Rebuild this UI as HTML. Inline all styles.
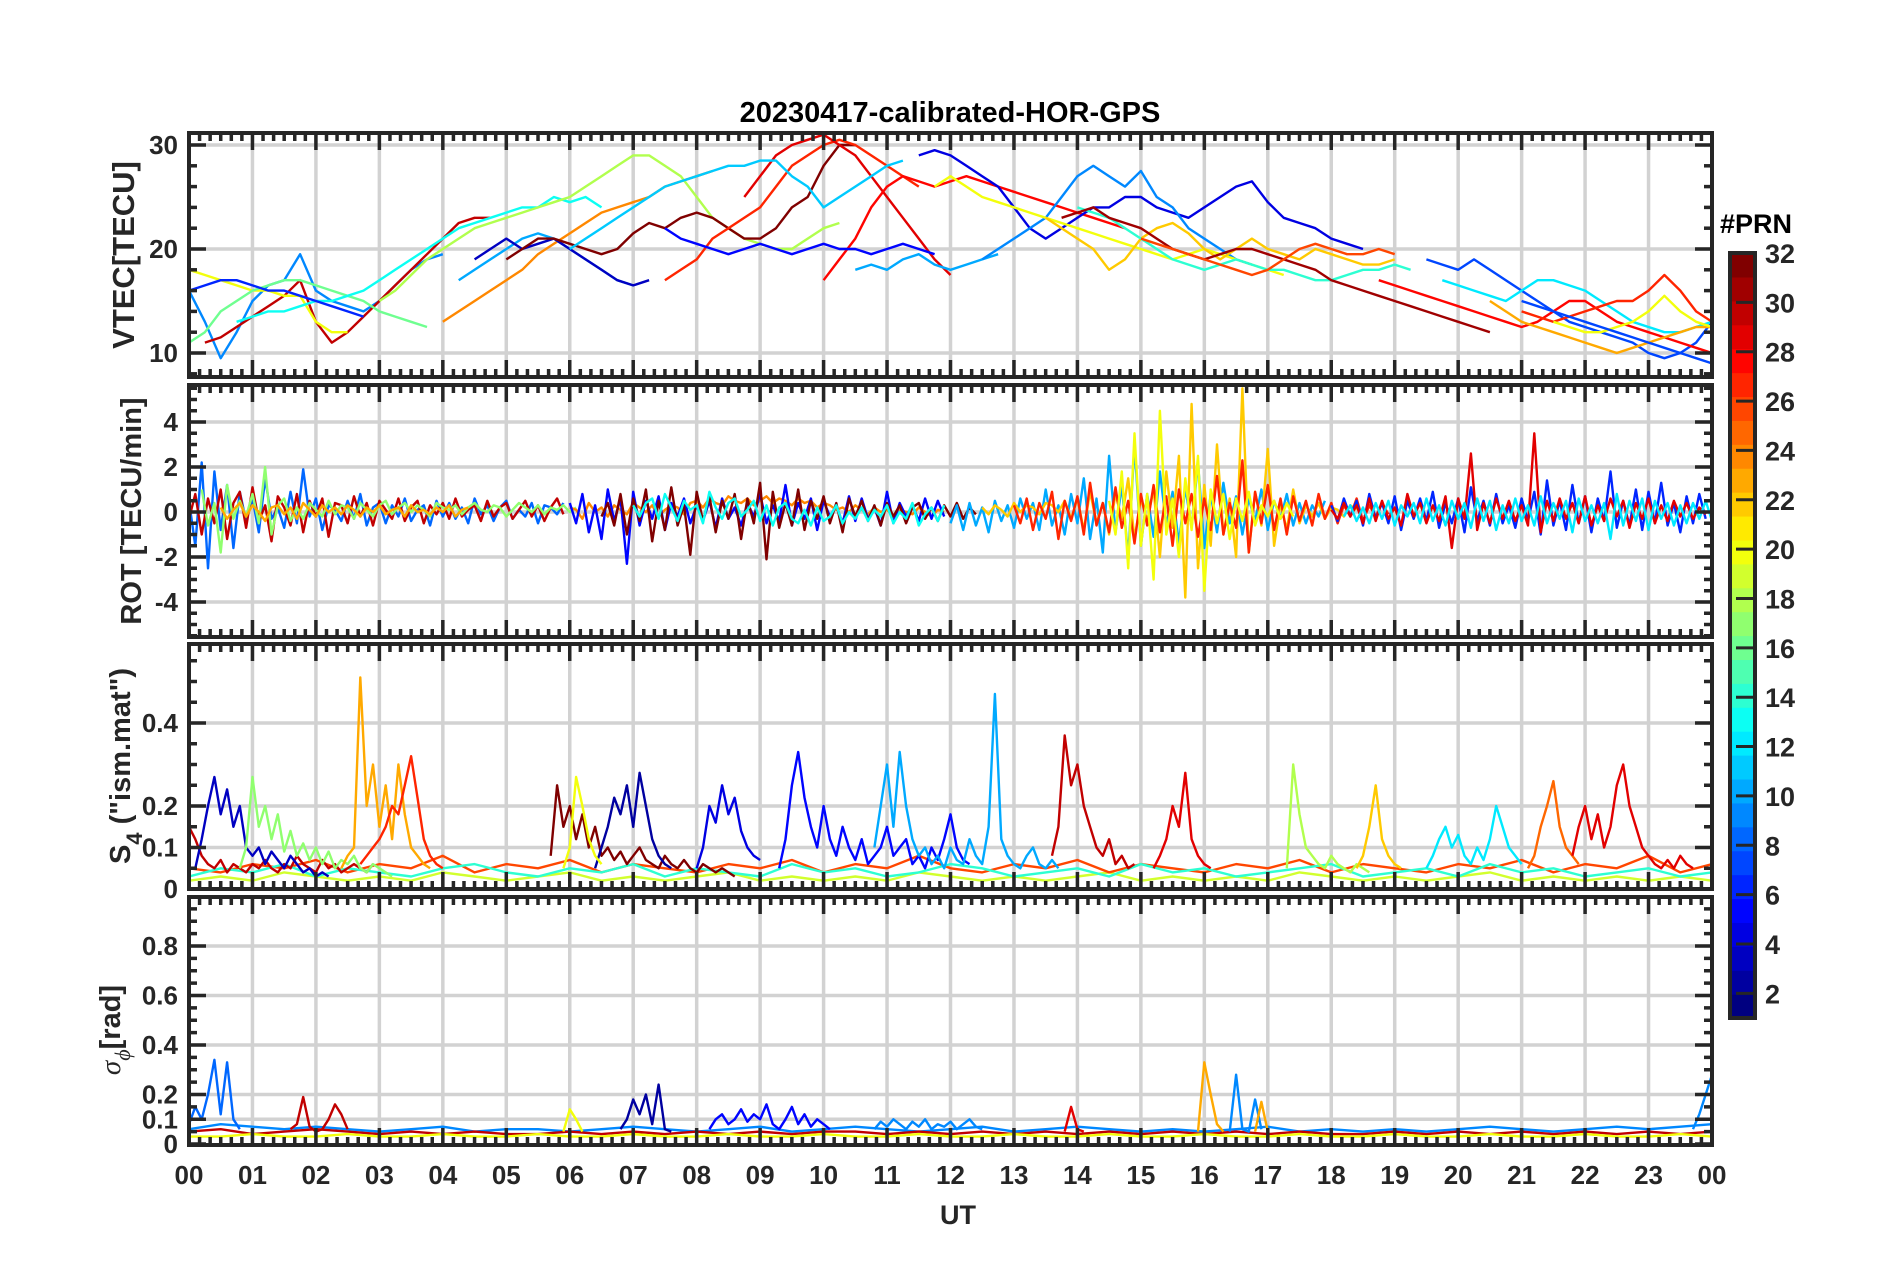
<!DOCTYPE html>
<html><head><meta charset="utf-8"><style>
html,body{margin:0;padding:0;background:#fff;}
svg{display:block;}
text{font-family:"Liberation Sans",sans-serif;font-weight:bold;fill:#262626;}
</style></head><body>
<svg id="fig" width="1902" height="1272" viewBox="0 0 1902 1272" xmlns="http://www.w3.org/2000/svg">
<rect x="0" y="0" width="1902" height="1272" fill="#fff"/>
<text x="950" y="122" text-anchor="middle" font-size="29" style="fill:#000">20230417-calibrated-HOR-GPS</text>
<text x="958" y="1224" text-anchor="middle" font-size="27">UT</text>
<text transform="translate(134,255) rotate(-90)" text-anchor="middle" font-size="31">VTEC[TECU]</text>
<text transform="translate(141,511) rotate(-90)" text-anchor="middle" font-size="29">ROT [TECU/min]</text>
<text transform="translate(130,766) rotate(-90)" text-anchor="middle" font-size="29">S<tspan font-size="22" dy="12">4</tspan><tspan dy="-12"> ("ism.mat")</tspan></text>
<text transform="translate(120,1030) rotate(-90)" text-anchor="middle" font-size="29"><tspan font-family="Liberation Serif" font-style="italic" font-weight="normal">σ</tspan><tspan font-size="22" dy="10" font-family="Liberation Serif" font-style="italic" font-weight="normal">ϕ</tspan><tspan dy="-10">[rad]</tspan></text>
<g id="content"></g>
</svg>
<script>
// ---------- VTEC data ----------
const vtecPrn = [9,30,20,16,13,24,18,10,3,32,27,29,28,11,5,10,4,9,20,22,14,31,26,7,12,28,23,27,20,6,7];
const vtecStart = [0,0.25,0,0,0.75,4.0,3.0,4.25,4.5,5.0,7.5,8.75,10,6.0,7.5,10.5,11.5,12.5,11.75,13.5,14,13.75,15,19.5,19.75,18.75,20.5,21,21.5,0,21];
const vtecStep = 0.25;
const vtec0 = [16,13,9.5,12,15,16.5,17,19.5,16,15,14.5,14,15,16.5,18,19,19.5];
const vtec1 = [11,11.5,12.5,13.5,14.5,15.5,17,13,11,12,13.5,15,16.5,18,19.5,21,22.5,23,23];
const vtec2 = [18,17.5,17,16.5,16,16,15.5,15.5,13,12,12];
const vtec3 = [11,12,14,15,16,16.5,17,17,16.5,16,15.5,15,14,13.5,13,12.5];
const vtec4 = [13,13.5,14,14,14.5,15,15,15.5,16,17,18,19,20,21,22,22.5,23,23.5,24,24,25,24.5,25,24];
const vtec5 = [13,14,15,16,17,18,19.5,20.5,21.5,22.5,23.5,24,24.5,25,26,26.5,27,27.5];
const vtec6 = [15,16,17.5,19,20,21,22,22.5,23,23.5,24,24.5,25,26,27,28,29,29,28,27,25,23,22,21,20.5,20,20,21,22,22.5];
const vtec7 = [17,18,19,20,21,21.5,21,20,19,18,17,16.5];
const vtec8 = [19,20,21,20,20.5,21,20,19,18,17,16.5,17];
const vtec9 = [19,20,21,21,20.5,20,19.5,20,21.5,22.5,22,23,23.5,23,22,21,21,22,24,25,28,30,30];
const vtec10 = [17,18,19,21,22,23,24,26,28,29,30,30.5,30,29,28,27,26];
const vtec11 = [25,27,29,30,30.5,31,30,29,27,25,23,21,19,17.5];
const vtec12 = [17,19,21,24,26,27,26.5,26,26.5,27,26.5,26,25.5,25,24.5,24,23.5,23,22.5,22];
const vtec13 = [20,21,22,23,24,25,26,26.5,27,27.5,28,28,28.5,28.5,27,26,24,25,26,27,28,28.5];
const vtec14 = [22,21,20.5,20,19.5,20,20.5,20,19.5,20,20.5,20,20,19.5,20,20.5,20,19.5];
const vtec15 = [18,18.5,18,19,19.5,18.5,18,18.5,19,19.5];
const vtec16 = [29,29.5,29,28,27,26,24,22,21,22,23,24,24,25,25,24,23.5,23,24,25,26,26.5,24.5,23,22.5,22,21,20.5,20];
const vtec17 = [19,20,21,22,23,25,27,28,27,26,27.5,25,24,22,21,20,19,18.5];
const vtec18 = [26,27,26,25,24.5,24,23.5,23,22.5,22,21.5,21,20.5,20,19.5,19,19.5,20,19.5,19,18.5,18,17.5];
const vtec19 = [23,22,21,20,18,19,21,22,22.5,21.5,20,19,20,21,20,19.5,19,20,19.5,19,18.5,18.5,19];
const vtec20 = [24,23.5,23,22,21,20,19,18.5,18,18.5,19,18.5,18,18,17.5,17,17,17.5,18,18,18.5,18];
const vtec21 = [23,23.5,24,23,22.5,22,21,20,19.5,19,19.5,20,20,19.5,19,18.5,18,17,16.5,16,15.5,15,14.5,14,13.5,13,12.5,12];
const vtec22 = [21,20.5,20,19.5,19,18.5,18,17.5,18,19,20,20.5,20,19.5,19.5,20,19.5];
const vtec23 = [19,18.5,18,19,18,17,16,15,14,13,12.5,12,11.5,11,10,9.5,10,11,13];
const vtec24 = [17,16.5,16,15.5,15,16,17,17,16.5,16,15,14,13,12.5,12,12,12.5,13];
const vtec25 = [17,16.5,16,15.5,15,14.5,14,13.5,13,12.5,13,14,15,15,14,13,12.5,12,11.5,11,10.5,10,10.5];
const vtec26 = [15,14,13,12.5,12,11.5,11,10.5,10,10.5,11,11.5,12,12.5,12.5];
const vtec27 = [14,13.5,13,13.5,14,14.5,15,15,16,17.5,16,14,13,13];
const vtec28 = [13,12.5,12,12,12.5,13,14,15.5,14,13,12.5,12,12];
const vtec29 = [16,16.5,17,17,16.5,16,16,15.5,15,14.5,14,13.5];
const vtec30 = [15,14.5,14,13.5,13,12.5,12,11.5,11,10.5,10,9.5,9,8.5,8];
const vtecVals = [vtec0,vtec1,vtec2,vtec3,vtec4,vtec5,vtec6,vtec7,vtec8,vtec9,vtec10,vtec11,vtec12,vtec13,vtec14,vtec15,vtec16,vtec17,vtec18,vtec19,vtec20,vtec21,vtec22,vtec23,vtec24,vtec25,vtec26,vtec27,vtec28,vtec29,vtec30];

// ---------- ROT data ----------
const rotPrn = [8,30,17,24,5,32,10,22,27,6,29,12,20,23,13];
const rotStart = [0,0,0.2,6,6,6.5,12,12.5,13,18,18,18.2,14.5,0.5,7];
const rotStep = 0.1;
const rot0 = [0.5,-1.5,2.2,-2.5,1.8,-0.8,1.2,-1.6,0.9,-0.4,0.6,-0.9,1.5,-0.3,0.2,-0.7,0.9,-0.5,1.9,-0.2,0.6,-0.8,0.3,0.1,-0.4,0.5,-0.3,0.8,-0.6,0.2,0.4,-0.5,0.3,-0.2,0.6,-0.4,0.1,0.3,-0.6,0.5,-0.2,0.4,-0.3,0.2,-0.5,0.6,-0.1,0.3,-0.4,0.2,0.5,-0.3,0.1,-0.2,0.4,-0.5,0.3,0.2,-0.1,0.4];
const rot1 = [-0.3,0.8,-1.0,0.6,-0.5,1.0,-1.2,0.4,0.9,-0.7,1.1,-0.4,0.3,-1.3,0.7,0.2,-0.6,0.8,-0.9,0.5,-0.2,0.6,-1.1,0.4,0.3,-0.5,0.7,-0.2,0.4,-0.6,0.5,0.1,-0.3,0.6,-0.4,0.2,0.5,-0.5,0.3,-0.1,0.4,-0.3,0.6,-0.2,0.1,0.3,-0.4,0.5,-0.2,0.2,0.4,-0.3,0.1,0.5,-0.2,0.3,-0.4,0.2,0.6,-0.1];
const rot2 = [1.0,-0.6,0.4,-1.8,1.2,-0.3,0.5,-0.2,0.8,-0.5,2.0,-1.0,0.3,0.6,-0.4,0.2,-0.3,0.4,0.1,-0.2,0.5,-0.1,0.3,0.2,-0.3,0.4,0.1,-0.2,0.3,0.5,-0.1,0.2,0.4,0.0,0.3,0.1,-0.2,0.4,0.2,0.1,0.3,-0.1,0.2,0.4,0.1,0.0,0.3,0.2,-0.2,0.1,0.4,0.2,0.0,0.3,-0.1,0.2,0.1,0.3,0.0,0.2];
const rot3 = [0.2,0.1,-0.3,0.4,0.0,0.2,-0.2,0.3,0.1,-0.1,0.4,0.2,0.0,0.3,-0.2,0.1,0.3,0.2,-0.1,0.4,0.5,0.2,0.6,0.4,0.3,0.7,0.5,0.4,0.6,0.3,0.5,0.7,0.4,0.6,0.5,0.3,0.6,0.4,0.5,0.2,0.4,0.3,0.1,0.2,0.0,0.3,0.1,-0.1,0.2,0.0,0.1,-0.2,0.1,0.0,-0.1,0.2,0.0,-0.2,0.1,0.0];
const rot4 = [0.4,-0.5,0.8,-0.9,0.3,-1.2,1.0,-0.4,0.6,-2.3,0.9,-0.6,0.5,-0.3,0.7,-0.8,0.4,-0.2,0.6,-0.5,0.3,-0.4,0.5,-0.7,0.6,-0.3,0.2,-0.6,0.4,-0.2,0.8,-0.5,0.3,-0.4,1.2,-0.6,0.4,-0.3,0.6,-0.8,0.5,-0.2,0.3,-0.5,0.7,-0.4,0.6,-0.3,0.2,-0.6,0.9,-0.5,0.4,-0.2,0.3,-0.4,0.6,-0.3,0.5,-0.2];
const rot5 = [-0.2,0.4,-0.6,0.8,-1.0,0.6,-0.4,1.0,-1.3,0.5,-0.8,1.1,-0.6,0.3,-1.9,0.9,-0.4,0.7,-0.9,0.5,-0.3,0.8,-1.2,0.6,-0.5,1.3,-2.1,0.9,-0.7,0.4,-0.6,1.0,-0.8,0.5,-0.3,0.7,-0.5,0.4,-0.9,0.6,-0.2,0.5,-0.4,0.3,-0.6,0.4,-0.2,0.3,-0.5,0.2,0.4,-0.3,0.2,-0.4,0.3,-0.2,0.4,-0.3,0.2,-0.1];
const rot6 = [-0.5,0.3,-0.8,0.4,-0.6,0.2,-0.9,0.5,-0.4,0.3,-0.7,0.6,-0.3,0.4,-0.8,1.0,-0.6,0.3,-1.0,0.8,-0.5,1.5,-1.2,0.6,-1.8,2.5,-0.9,1.2,-2.0,3.0,-1.5,0.8,-1.1,1.8,-0.6,0.9,-1.4,1.1,-0.7,2.2,-1.6,0.8,-0.9,1.3,-0.5,0.7,-1.0,0.6,-0.4,1.0,-0.8,0.5,-0.3,0.8,-0.6,0.4,-0.5,0.3,-0.2,0.5];
const rot7 = [0.2,-0.1,0.3,0.1,-0.2,0.4,0.0,0.3,0.2,-0.1,0.4,0.3,0.0,0.5,-0.3,0.6,-0.8,0.9,-0.5,0.4,-1.0,0.8,-0.3,1.5,-1.2,0.6,-0.4,1.0,-2.0,1.8,-0.7,2.5,-3.8,4.8,-2.5,1.2,-1.5,3.0,-1.0,0.6,-2.0,5.5,-1.8,0.9,-0.6,2.8,-1.5,0.4,-0.8,1.0,-0.5,0.3,-0.2,0.4,-0.3,0.2,0.1,-0.2,0.3,0.1];
const rot8 = [0.3,-0.5,0.6,-0.8,0.4,-0.3,0.9,-1.2,0.5,-0.4,0.7,-1.0,1.3,-0.6,0.4,-0.9,1.1,-0.7,0.5,-1.4,0.8,-0.6,1.2,-0.9,0.7,-1.5,1.0,-0.5,0.8,-1.1,0.6,-0.8,1.6,-1.0,0.4,-0.7,2.3,-1.8,0.9,-0.5,1.2,-0.8,0.6,-1.0,0.7,-0.4,0.5,-0.6,0.8,-0.3,0.4,-0.5,0.3,-0.2,0.6,-0.4,0.3,-0.2,0.4,-0.1];
const rot9 = [0.3,-0.4,0.6,-0.2,0.5,-0.6,0.8,-0.3,0.4,-0.5,0.7,-0.8,0.5,-0.3,0.6,-0.4,0.9,-0.7,0.4,-0.5,0.6,-0.9,1.1,-0.4,0.5,-0.6,0.8,-0.5,0.3,-0.7,0.6,-0.4,0.9,-1.0,1.4,-0.6,0.5,-0.8,1.2,-0.5,0.7,-0.9,0.6,-0.4,1.8,-0.7,0.5,-0.6,1.0,-0.8,0.9,-0.5,1.3,-0.6,0.4,-0.9,0.7,-0.5,0.8,-0.3];
const rot10 = [0.1,-0.3,0.4,-0.2,0.3,-0.5,0.6,-0.4,0.5,-0.3,0.2,-0.6,0.8,-0.2,0.4,-0.5,0.3,-0.4,0.7,-1.6,0.6,-0.3,2.6,-0.8,0.4,-0.5,0.6,-0.3,0.5,-0.4,0.3,-0.6,3.5,-0.9,0.5,-0.4,0.6,-0.3,0.4,-0.5,0.7,-0.6,0.3,-0.4,0.6,-0.2,0.5,-0.7,0.4,-0.3,0.6,-0.5,0.3,-0.4,0.5,-0.2,0.4,-0.3,0.2,-0.1];
const rot11 = [-0.2,0.3,-0.4,0.2,-0.5,0.4,-0.3,0.5,-0.6,0.3,-0.2,0.4,-0.5,0.6,-0.4,0.3,-0.6,0.5,-0.3,0.4,-0.7,0.6,-0.4,0.5,-0.8,0.3,-0.5,0.6,-0.4,0.3,-0.6,0.7,-0.5,0.4,-0.3,0.5,-0.9,0.6,-0.4,0.3,-0.5,0.4,-1.2,0.8,-0.6,0.5,-0.4,0.6,-0.8,0.5,-0.3,0.4,-0.6,0.3,-0.5,0.4,-0.3,0.5,-0.4,0.3];
const rot12 = [0.5,-1.0,1.8,-2.5,3.5,-1.5,0.8,-3.0,4.5,-1.0,0.6,-2.0,1.5,-0.8,2.5,-3.5,1.0,-0.5,0.8,-1.2,0.6,-0.4,0.9,-0.6,0.3,-0.2,0.5,-0.3,0.4,-0.2];
const rot13 = [0.2,-0.3,0.1,0.4,-0.2,0.3,0.0,-0.4,0.2,0.3,-0.1,0.2,-0.3,0.4,0.1,-0.2,0.3,0.0,0.2,-0.1,0.3,0.1,-0.2,0.2,0.0,0.3,-0.1,0.1,0.2,-0.2,0.3,0.0,0.1,-0.1,0.2,0.0,0.3,-0.2,0.1,0.2];
const rot14 = [0.3,-0.2,0.4,0.6,-0.3,0.8,0.2,-0.4,0.5,0.1,0.3,-0.5,0.9,0.2,-0.3,0.4,0.6,-0.2,0.1,0.5,-0.4,0.3,-0.6,0.2,0.4,-0.3,-0.5,0.1,-0.6,0.2,-0.4,-0.2,0.3,-0.5,0.0,-0.3,0.2,-0.4,0.1,-0.2,0.3,-0.5,0.0,-0.3,0.4,-0.6,-0.1,0.2,-0.4,0.3];
const rotVals = [rot0,rot1,rot2,rot3,rot4,rot5,rot6,rot7,rot8,rot9,rot10,rot11,rot12,rot13,rot14];

// ---------- S4 data ----------
const s4BasePrn = [19,26,14];
const s4BaseStep = 0.5;
const s4Base0 = [0.02,0.03,0.02,0.04,0.03,0.02,0.03,0.02,0.04,0.03,0.02,0.03,0.04,0.02,0.03,0.02,0.03,0.04,0.02,0.03,0.02,0.03,0.02,0.04,0.03,0.02,0.03,0.02,0.03,0.04,0.02,0.03,0.02,0.03,0.02,0.04,0.03,0.02,0.03,0.02,0.03,0.04,0.02,0.03,0.02,0.03,0.02,0.03,0.02];
const s4Base1 = [0.05,0.04,0.06,0.05,0.07,0.04,0.06,0.05,0.08,0.04,0.06,0.05,0.07,0.04,0.06,0.05,0.04,0.06,0.05,0.07,0.04,0.06,0.05,0.08,0.05,0.04,0.06,0.05,0.07,0.04,0.06,0.05,0.04,0.06,0.05,0.07,0.04,0.06,0.05,0.04,0.06,0.05,0.07,0.04,0.06,0.05,0.08,0.04,0.06];
const s4Base2 = [0.03,0.05,0.04,0.06,0.03,0.05,0.04,0.03,0.05,0.06,0.04,0.03,0.05,0.04,0.06,0.03,0.05,0.04,0.03,0.06,0.04,0.05,0.03,0.04,0.06,0.05,0.03,0.04,0.05,0.03,0.06,0.04,0.05,0.03,0.04,0.05,0.06,0.03,0.04,0.05,0.03,0.06,0.04,0.05,0.03,0.04,0.05,0.03,0.04];
const s4BaseVals = [s4Base0,s4Base1,s4Base2];
const s4Prn = [30,3,17,23,27,32,2,20,4,5,10,30,29,18,22,25,29,12];
const s4Start = [0,0.1,0.8,2.4,2.7,5.7,6.4,5.9,8.0,9.3,10.8,13.6,15.2,17.3,18.4,21.1,21.8,19.5];
const s4Step = 0.1;
const s40 = [0.15,0.12,0.08,0.06,0.05,0.07,0.04,0.06,0.05,0.04,0.06,0.05,0.07,0.05,0.04,0.06,0.05,0.08,0.06,0.05,0.04,0.07,0.05,0.06,0.04,0.05,0.06,0.05,0.04,0.06];
const s41 = [0.05,0.12,0.2,0.27,0.18,0.24,0.15,0.2,0.1,0.08,0.1,0.06,0.09,0.07,0.05,0.08,0.06,0.04,0.05,0.03,0.04,0.03];
const s42 = [0.05,0.1,0.27,0.15,0.2,0.12,0.18,0.09,0.14,0.08,0.11,0.07,0.1,0.06,0.09,0.05,0.07,0.06,0.08,0.05,0.04,0.06,0.05,0.04,0.03];
const s43 = [0.05,0.08,0.1,0.51,0.2,0.3,0.15,0.25,0.12,0.3,0.18,0.1,0.08,0.06,0.05];
const s44 = [0.06,0.08,0.1,0.12,0.15,0.2,0.18,0.25,0.32,0.22,0.12,0.08,0.06,0.05];
const s45 = [0.08,0.25,0.15,0.2,0.12,0.18,0.1,0.15,0.08,0.1,0.07,0.09,0.06,0.08,0.1,0.07,0.06,0.05,0.08,0.06,0.05,0.07,0.05,0.04,0.06,0.05,0.04,0.05,0.04,0.03];
const s46 = [0.05,0.1,0.15,0.22,0.18,0.25,0.15,0.28,0.2,0.12,0.08,0.06,0.05];
const s47 = [0.05,0.1,0.27,0.2,0.12,0.08,0.06];
const s48 = [0.05,0.1,0.2,0.16,0.25,0.18,0.22,0.14,0.1,0.08,0.07];
const s49 = [0.05,0.12,0.25,0.33,0.22,0.15,0.1,0.2,0.12,0.08,0.15,0.1,0.07,0.12,0.06,0.08,0.1,0.15,0.08,0.1,0.12,0.06,0.08,0.05,0.1,0.07,0.12,0.18,0.1,0.07,0.06];
const s410 = [0.1,0.2,0.3,0.15,0.33,0.2,0.12,0.08,0.1,0.06,0.08,0.05,0.1,0.07,0.06,0.12,0.08,0.06,0.15,0.47,0.12,0.08,0.06,0.05,0.08,0.1,0.06,0.05,0.07,0.05];
const s411 = [0.08,0.15,0.37,0.25,0.3,0.2,0.15,0.1,0.08,0.12,0.06,0.08,0.05,0.06];
const s412 = [0.05,0.08,0.12,0.2,0.15,0.28,0.12,0.08,0.06,0.05];
const s413 = [0.05,0.3,0.18,0.1,0.08,0.06,0.05,0.08,0.06,0.05,0.04,0.06,0.05,0.04];
const s414 = [0.05,0.08,0.15,0.25,0.12,0.08,0.06,0.05];
const s415 = [0.05,0.08,0.15,0.2,0.26,0.15,0.1,0.08,0.06];
const s416 = [0.08,0.15,0.2,0.12,0.18,0.1,0.15,0.25,0.3,0.2,0.15,0.1,0.08,0.06,0.05,0.07,0.05,0.08,0.06,0.05];
const s417 = [0.05,0.08,0.12,0.15,0.1,0.13,0.08,0.06,0.1,0.07,0.12,0.2,0.15,0.1,0.08,0.06];
const s4Vals = [s40,s41,s42,s43,s44,s45,s46,s47,s48,s49,s410,s411,s412,s413,s414,s415,s416,s417];

// ---------- sigma-phi data ----------
const sigBasePrn = [9,30,20];
const sigBaseStep = 0.5;
const sigBase0 = [0.06,0.08,0.07,0.06,0.07,0.06,0.05,0.06,0.07,0.05,0.06,0.06,0.05,0.06,0.07,0.06,0.05,0.06,0.07,0.05,0.06,0.07,0.06,0.05,0.06,0.07,0.05,0.06,0.07,0.06,0.05,0.06,0.05,0.06,0.07,0.05,0.06,0.05,0.06,0.05,0.06,0.07,0.06,0.05,0.06,0.07,0.06,0.07,0.08];
const sigBase1 = [0.05,0.06,0.04,0.05,0.06,0.05,0.04,0.05,0.04,0.05,0.04,0.04,0.05,0.04,0.05,0.04,0.05,0.04,0.05,0.04,0.05,0.05,0.04,0.05,0.04,0.05,0.04,0.05,0.04,0.05,0.04,0.05,0.04,0.05,0.04,0.05,0.04,0.04,0.05,0.04,0.05,0.04,0.05,0.04,0.05,0.04,0.05,0.04,0.05];
const sigBase2 = [0.03,0.03,0.04,0.03,0.03,0.04,0.03,0.03,0.04,0.03,0.03,0.04,0.03,0.03,0.04,0.03,0.03,0.04,0.03,0.03,0.04,0.03,0.03,0.04,0.03,0.03,0.04,0.03,0.03,0.04,0.03,0.03,0.04,0.03,0.03,0.04,0.03,0.03,0.04,0.03,0.03,0.04,0.03,0.03,0.04,0.03,0.03,0.04,0.03];
const sigBaseVals = [sigBase0,sigBase1,sigBase2];
const sigPrn = [8,30,2,23,9,23,9,20,5,29,9];
const sigStart = [0,1.6,6.8,15.9,16.4,16.8,23.7,5.9,8.2,13.8,10.8];
const sigStep = 0.1;
const sig0 = [0.08,0.15,0.1,0.2,0.34,0.12,0.33,0.1,0.06];
const sig1 = [0.06,0.08,0.19,0.07,0.05,0.06,0.1,0.16,0.12,0.06];
const sig2 = [0.06,0.1,0.18,0.12,0.2,0.08,0.24,0.06,0.05];
const sig3 = [0.05,0.33,0.2,0.08,0.05];
const sig4 = [0.05,0.28,0.06,0.05,0.18,0.06];
const sig5 = [0.05,0.17,0.05];
const sig6 = [0.06,0.12,0.2,0.28];
const sig7 = [0.05,0.14,0.1,0.05];
const sig8 = [0.06,0.1,0.12,0.08,0.1,0.14,0.09,0.12,0.1,0.16,0.08,0.06,0.1,0.15,0.08,0.12,0.07,0.1,0.08,0.06];
const sig9 = [0.05,0.15,0.06,0.05];
const sig10 = [0.06,0.09,0.07,0.1,0.08,0.06,0.09,0.07,0.1,0.06,0.08,0.07,0.09,0.06,0.08,0.1,0.07,0.06];
const sigVals = [sig0,sig1,sig2,sig3,sig4,sig5,sig6,sig7,sig8,sig9,sig10];

// ---------- axis config ----------
const hourLabels = ["00","01","02","03","04","05","06","07","08","09","10","11","12","13","14","15","16","17","18","19","20","21","22","23","00"];
const cbTicks = [2,4,6,8,10,12,14,16,18,20,22,24,26,28,30,32];

const NS = "http://www.w3.org/2000/svg";
const root = document.getElementById("content");
const X0 = 189, X1 = 1712;
const xh = h => X0 + h * (X1 - X0) / 24;

const panels = [
  {name:"vtec", top:133, bottom:377, vRef:20, yRef:249, ppu:10.4, major:[10,20,30], fmt:v=>String(v), minor:2},
  {name:"rot", top:385, bottom:637, vRef:0, yRef:512, ppu:22.5, major:[-4,-2,0,2,4], fmt:v=>String(v), minor:0.5},
  {name:"s4", top:644, bottom:889, vRef:0, yRef:889, ppu:415, major:[0,0.1,0.2,0.4], fmt:v=>String(v), minor:0.05},
  {name:"sigma", top:897, bottom:1145, vRef:0, yRef:1144, ppu:247.5, major:[0,0.1,0.2,0.4,0.6,0.8], fmt:v=>String(v), minor:0.05}
];
panels.forEach(p => { p.y = v => p.yRef - (v - p.vRef) * p.ppu; });

function mk(tag, attrs, parent) {
  const e = document.createElementNS(NS, tag);
  for (const k in attrs) e.setAttribute(k, attrs[k]);
  (parent || root).appendChild(e);
  return e;
}
function jet(p) {
  const t = (p - 1) / 31;
  const c = x => Math.round(255 * Math.max(0, Math.min(1, x)));
  return "rgb(" + c(1.5 - Math.abs(4*t - 3)) + "," + c(1.5 - Math.abs(4*t - 2)) + "," + c(1.5 - Math.abs(4*t - 1)) + ")";
}

const defs = mk("defs", {});
panels.forEach((p, i) => {
  const cp = mk("clipPath", {id: "clip" + i}, defs);
  mk("rect", {x: X0, y: p.top, width: X1 - X0, height: p.bottom - p.top}, cp);
});

// grids
panels.forEach((p, i) => {
  const g = mk("g", {});
  
  
  for (let h = 1; h < 24; h++) {
    const l = mk("line", {x1: xh(h), x2: xh(h), y1: p.top, y2: p.bottom, stroke: "#d2d2d2", "stroke-width": 3.5}, g);
    
    
  }
  p.major.forEach(v => {
    const yy = p.y(v);
    if (yy <= p.top + 2 || yy >= p.bottom - 2) return;
    const l = mk("line", {x1: X0, x2: X1, y1: yy, y2: yy, stroke: "#d2d2d2", "stroke-width": 3.5}, g);
    
    
  });
});

function drawTrack(g, p, prn, start, step, vals, w) {
  const pts = vals.map((v, k) => xh(start + k * step).toFixed(1) + "," + p.y(v).toFixed(1)).join(" ");
  const pl = mk("polyline", {points: pts, fill: "none", stroke: jet(prn), "stroke-width": w, "stroke-linejoin": "round"}, g);
  
  
}

function series(i, prns, starts, step, valsArr, w) {
  const p = panels[i];
  const g = mk("g", {"clip-path": "url(#clip" + i + ")"});
  
  
  valsArr.forEach((vals, k) => drawTrack(g, p, prns[k], starts[k], step, vals, w));
}
series(0, vtecPrn, vtecStart, vtecStep, vtecVals, 2.4);
series(1, rotPrn, rotStart, rotStep, rotVals, 2.4);
series(2, s4BasePrn, [0,0,0], s4BaseStep, s4BaseVals, 2.4);
series(2, s4Prn, s4Start, s4Step, s4Vals, 2.4);
series(3, sigBasePrn, [0,0,0], sigBaseStep, sigBaseVals, 2.4);
series(3, sigPrn, sigStart, sigStep, sigVals, 2.4);

// frames & ticks
panels.forEach((p, i) => {
  const g = mk("g", {});
  
  
  const C = "#262626";
  for (let m = 0; m <= 144; m++) {
    const x = xh(m / 6), L = (m % 6 === 0) ? 17 : 8;
    mk("line", {x1: x, x2: x, y1: p.top, y2: p.top + L, stroke: C, "stroke-width": 3.5}, g);
    mk("line", {x1: x, x2: x, y1: p.bottom, y2: p.bottom - L, stroke: C, "stroke-width": 3.5}, g);
  }
  const vTop = p.vRef + (p.yRef - p.top) / p.ppu, vBot = p.vRef - (p.bottom - p.yRef) / p.ppu;
  for (let v = Math.ceil(vBot / p.minor) * p.minor; v <= vTop + 1e-9; v += p.minor) {
    const isMaj = p.major.some(m => Math.abs(m - v) < 1e-6);
    const yy = p.y(v), L = isMaj ? 17 : 8;
    mk("line", {x1: X0, x2: X0 + L, y1: yy, y2: yy, stroke: C, "stroke-width": 3.5}, g);
    mk("line", {x1: X1, x2: X1 - L, y1: yy, y2: yy, stroke: C, "stroke-width": 3.5}, g);
  }
  const fr = mk("rect", {x: X0, y: p.top, width: X1 - X0, height: p.bottom - p.top, fill: "none", stroke: C, "stroke-width": 4}, g);
  
  
  p.major.forEach(v => {
    const t = mk("text", {x: 178, y: p.y(v) + 9, "text-anchor": "end", "font-size": 26}, g);
    t.textContent = p.fmt(v);
    
    
  });
});

// x tick labels
hourLabels.forEach((lab, h) => {
  const t = mk("text", {x: xh(h), y: 1184, "text-anchor": "middle", "font-size": 26});
  t.textContent = lab;
  
  
});

// colorbar
const CB_X = 1730, CB_W = 25, CB_TOP = 253, CB_BOT = 1018;
const cbY = v => CB_BOT - (v - 1) * (CB_BOT - CB_TOP) / 31;
const cb = mk("g", {});


const bandH = (CB_BOT - CB_TOP) / 32;
for (let p = 1; p <= 32; p++) {
  const r = mk("rect", {x: CB_X, y: CB_BOT - p * bandH, width: CB_W, height: bandH + 0.6, fill: jet(p)}, cb);
  
  
}
cbTicks.forEach(v => {
  mk("line", {x1: CB_X + 6, x2: CB_X + CB_W, y1: cbY(v), y2: cbY(v), stroke: "#262626", "stroke-width": 3}, cb);
  const t = mk("text", {x: 1765, y: cbY(v) + 10, "font-size": 27}, cb);
  t.textContent = String(v);
  
  
});
mk("rect", {x: CB_X, y: CB_TOP, width: CB_W, height: CB_BOT - CB_TOP, fill: "none", stroke: "#262626", "stroke-width": 4}, cb);
const cbt = mk("text", {x: 1720, y: 233, "font-size": 27, style: "fill:#000"}, cb);
cbt.textContent = "#PRN";


</script>
</body></html>
